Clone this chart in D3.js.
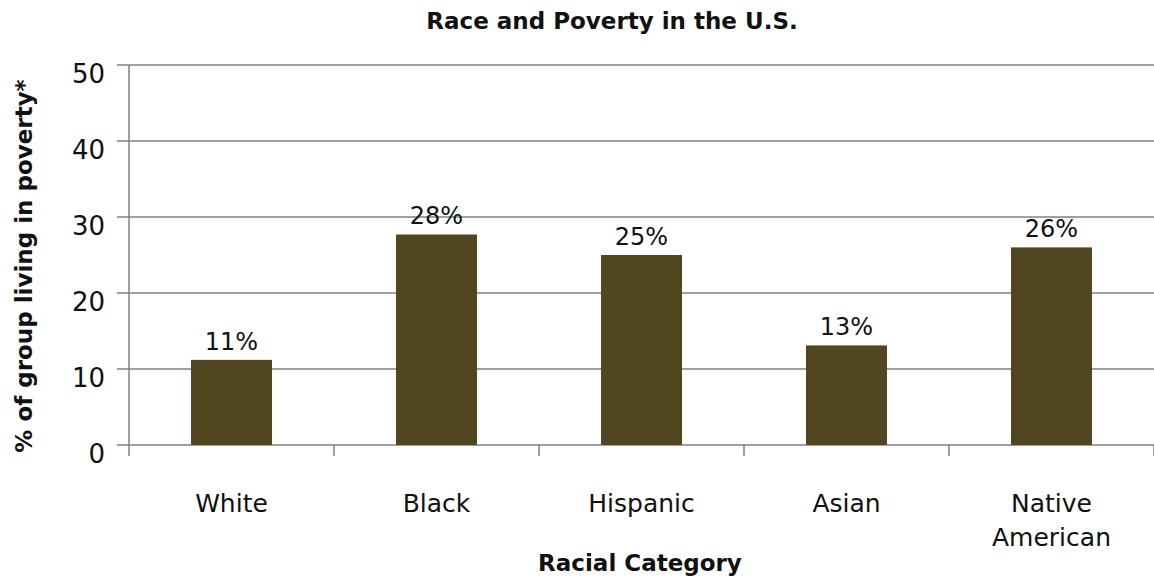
<!DOCTYPE html>
<html><head><meta charset="utf-8">
<script src="https://cdn.jsdelivr.net/npm/d3@7"></script>
<style>body{margin:0;background:#fff}svg{display:block}text{font-family:"DejaVu Sans",sans-serif;fill:#111}</style>
</head><body>
<svg id="c" width="1154" height="581"></svg>
<script>
const categories = [["White"],["Black"],["Hispanic"],["Asian"],["Native","American"]];
const values = [11.2, 27.7, 25.0, 13.1, 26.0];
const valueLabels = ["11%","28%","25%","13%","26%"];
const yTicks = [0,10,20,30,40,50];
const title = "Race and Poverty in the U.S.";
const xTitle = "Racial Category";
const yTitle = "% of group living in poverty*";

const svg = d3.select("#c");
const L = 129, R = 1154, T = 65, B = 445;
const keys = categories.map(c => c.join(" "));
const x = d3.scaleBand().domain(keys).range([L, R]).paddingInner(0.605).paddingOuter(0.3025);
const y = d3.scaleLinear().domain([0, 50]).range([B, T]);
const grid = "#808080";

svg.append("g").selectAll("line").data(yTicks).join("line")
  .attr("x1", 117).attr("x2", R).attr("y1", d => y(d)).attr("y2", d => y(d))
  .attr("stroke", grid).attr("stroke-width", 1.5);
svg.append("line").attr("x1", L).attr("x2", L).attr("y1", T).attr("y2", B + 11)
  .attr("stroke", grid).attr("stroke-width", 1.5);
const step = x.step();
const bounds = d3.range(keys.length + 1).map(i => L + i * step);
svg.append("g").selectAll("line").data(bounds.slice(1)).join("line")
  .attr("x1", d => d).attr("x2", d => d).attr("y1", B).attr("y2", B + 11)
  .attr("stroke", grid).attr("stroke-width", 1.5);

svg.append("g").selectAll("text").data(yTicks).join("text")
  .attr("x", 105).attr("y", d => y(d) + 18).attr("text-anchor", "end")
  .attr("font-size", 26).text(d => d);

svg.append("g").selectAll("rect").data(values).join("rect")
  .attr("x", (d, i) => x(keys[i])).attr("width", x.bandwidth())
  .attr("y", d => y(d)).attr("height", d => B - y(d)).attr("fill", "#51461f");

svg.append("g").selectAll("text").data(values).join("text")
  .attr("x", (d, i) => x(keys[i]) + x.bandwidth() / 2).attr("y", d => y(d) - 10)
  .attr("text-anchor", "middle").attr("font-size", 24).text((d, i) => valueLabels[i]);

const cl = svg.append("g").selectAll("text").data(categories).join("text")
  .attr("x", (d, i) => x(keys[i]) + x.bandwidth() / 2).attr("y", 512)
  .attr("text-anchor", "middle").attr("font-size", 25);
cl.selectAll("tspan").data(d => d).join("tspan")
  .attr("x", function() { return this.parentNode.getAttribute("x"); })
  .attr("dy", (d, j) => j === 0 ? 0 : 34).text(d => d);

svg.append("text").attr("x", 612).attr("y", 29).attr("text-anchor", "middle")
  .attr("font-size", 23).attr("font-weight", "bold").text(title);
svg.append("text").attr("x", 640).attr("y", 571).attr("text-anchor", "middle")
  .attr("font-size", 23).attr("font-weight", "bold").text(xTitle);
svg.append("text").attr("transform", "translate(32,266) rotate(-90)").attr("text-anchor", "middle")
  .attr("font-size", 23).attr("font-weight", "bold").text(yTitle);
</script>
</body></html>
